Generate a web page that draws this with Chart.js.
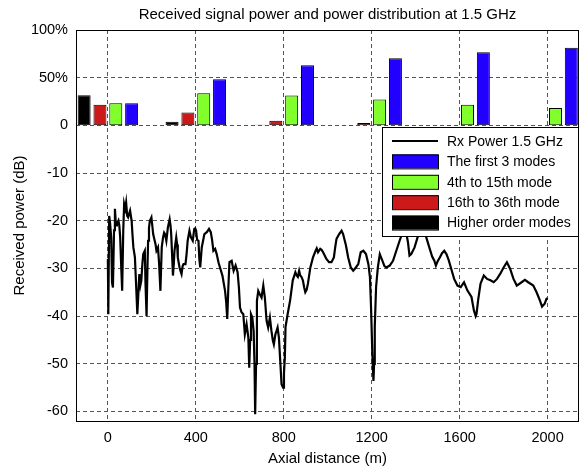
<!DOCTYPE html>
<html>
<head>
<meta charset="utf-8">
<script src="https://cdn.jsdelivr.net/npm/chart.js@4"></script>
<style>
  body { margin: 0; background: #fff; }
</style>
</head>
<body>
<canvas id="power-chart" width="585" height="470"></canvas>
<script>
// axial distance (m) and received power (dB)
let distance = [0, 2, 6, 10, 15, 19, 23, 28, 32, 37, 41, 48, 52, 56, 61, 65, 70, 74, 79, 83, 88, 92, 97, 101, 108, 112, 116, 123, 128, 134, 139, 143, 148, 152, 157, 161, 168, 171, 176, 180, 183, 187, 191, 198, 202, 206, 213, 217, 221, 228, 233, 239, 245, 251, 256, 260, 266, 273, 281, 285, 288, 292, 296, 300, 303, 311, 315, 318, 326, 330, 335, 340, 344, 353, 358, 363, 371, 378, 386, 393, 397, 401, 406, 412, 416, 420, 427, 439, 450, 460, 468, 474, 480, 488, 495, 503, 510, 521, 533, 538, 543, 548, 553, 563, 572, 581, 590, 596, 601, 608, 616, 623, 631, 639, 643, 647, 651, 657, 663, 667, 670, 674, 678, 684, 691, 699, 707, 714, 722, 729, 737, 744, 750, 755, 762, 768, 772, 778, 784, 790, 797, 801, 805, 808, 818, 829, 841, 853, 859, 864, 870, 875, 881, 887, 893, 898, 904, 910, 921, 933, 945, 950, 956, 966, 972, 979, 994, 1006, 1017, 1028, 1034, 1040, 1052, 1063, 1070, 1083, 1093, 1105, 1116, 1128, 1139, 1150, 1162, 1174, 1185, 1192, 1197, 1203, 1208, 1211, 1214, 1220, 1228, 1237, 1249, 1258, 1267, 1282, 1297, 1312, 1327, 1340, 1352, 1365, 1372, 1380, 1395, 1410, 1425, 1437, 1447, 1462, 1475, 1485, 1492, 1500, 1510, 1520, 1530, 1540, 1550, 1560, 1575, 1590, 1605, 1620, 1635, 1654, 1665, 1673, 1677, 1684, 1695, 1710, 1725, 1740, 1755, 1770, 1785, 1800, 1815, 1830, 1845, 1860, 1882, 1897, 1912, 1935, 1950, 1965, 1975, 1987, 1995, 2000];
let rxPower = [-28, -39.6, -19, -20.5, -23.5, -33, -34, -22, -17.5, -21, -20.7, -20, -21, -23.5, -30, -34.7, -22, -16.5, -17.5, -16.2, -19, -19.3, -18.5, -17.9, -20, -23, -25.6, -27.7, -33, -39.6, -35, -31.2, -33.5, -32.6, -29, -27, -26.3, -33, -40, -30, -24.2, -21.5, -20, -19.3, -21, -22.8, -24.2, -25, -26.3, -25.6, -29, -34.7, -25.6, -23.5, -22.5, -22.8, -24.2, -21.4, -19.7, -21, -22.8, -27, -31.5, -29, -26.3, -23.5, -25, -27.7, -29.8, -30.5, -31.2, -29.5, -29.1, -29.1, -27, -24.2, -22.1, -23.5, -24.2, -21.7, -21.6, -22, -24, -24.2, -28, -29.8, -25.6, -22.8, -22.4, -21.7, -22.4, -24, -26.3, -25.9, -27, -28.7, -29.8, -31.5, -34.7, -37, -40.6, -34, -28.7, -28.4, -30.5, -29.4, -30.8, -34, -38.2, -39.2, -39.6, -43.8, -41.7, -44.5, -50.8, -45, -39.6, -40.3, -43.1, -50, -60.6, -50, -36.8, -34.7, -35.4, -36.1, -33.6, -36.1, -41, -42.4, -40.3, -43.1, -45, -45.9, -43.8, -43, -42.4, -44.5, -49.4, -54.3, -55, -52, -48.7, -42.3, -39.5, -36.7, -32.5, -30.8, -31.5, -31.8, -30.5, -31.5, -31.8, -32.5, -34, -35, -34.5, -33.2, -29.8, -27.7, -26.3, -25.8, -26.6, -25.9, -26.1, -26.6, -28, -28.7, -28.7, -27.7, -25.6, -23.8, -22.8, -22.1, -22.8, -25.2, -27.7, -29.8, -30.5, -29.8, -29.1, -26.6, -26.3, -27, -29.1, -31.8, -38.1, -47.9, -53.6, -50, -42.3, -33.9, -29.8, -27, -28.4, -29.5, -29.8, -29.4, -28.4, -26.3, -24.2, -22.5, -21.2, -24.5, -27.3, -27, -25.6, -23.3, -21.5, -22, -23.3, -25.6, -27.5, -28.4, -29.4, -28.5, -27.7, -26.8, -26.3, -27, -28.2, -29.8, -32.2, -33.6, -33.9, -32.9, -34.6, -36, -38.8, -40, -39.5, -36.7, -33.2, -31.5, -32.2, -32.5, -32.9, -32.2, -31.1, -29.8, -28.7, -30.1, -32.2, -33.6, -32.9, -32.4, -32.9, -33.6, -35, -36.7, -38, -37.4, -36.4, -36.2];

// power distribution over mode groups (%), one bar group per position
let positions = [0, 400, 800, 1200, 1600, 2000];
let firstModes = [23.1, 48.3, 63.1, 70.5, 76.6, 81.4];
let midModes = [23.1, 33.8, 31.4, 27, 21.7, 18.3];
let highModes = [21.7, 13.4, 4.8, 2.4, 0.5, 0.2];
let higherModes = [31.7, 3.8, 0.7, 0.3, 0.2, 0.1];

let xTicks = [0, 400, 800, 1200, 1600, 2000];
let yTicks = [-60, -50, -40, -30, -20, -10, 0, 10, 20];
let yTickLabels = ['-60', '-50', '-40', '-30', '-20', '-10', '0', '50%', '100%'];

let FONT = "'Liberation Sans', Arial, Helvetica, sans-serif";
Chart.defaults.font.family = FONT;
Chart.defaults.font.size = 14.5;
Chart.defaults.color = '#000';

function points(xs, ys) {
    return xs.map((x, i) => ({x: x, y: ys[i]}));
}

function barSet(label, values, color) {
    return {
        type: 'bar',
        label: label,
        data: points(positions, values),
        backgroundColor: color,
        borderColor: '#000',
        borderWidth: 1,
        borderSkipped: false,
        categoryPercentage: 0.72,
        barPercentage: 0.82,
        yAxisID: 'y2'
    };
}

// frame around the plot + boxed legend drawn on top of the trace
let framePlugin = {
    id: 'frameAndLegend',
    afterDraw(chart) {
        let ctx = chart.ctx;
        let a = chart.chartArea;
        ctx.save();
        ctx.strokeStyle = '#000';
        ctx.lineWidth = 1;
        ctx.strokeRect(Math.round(a.left) + 0.5, Math.round(a.top) + 0.5,
            Math.round(a.right - a.left) - 1, Math.round(a.bottom - a.top));

        let order = [0, 4, 3, 2, 1];
        let boxW = 197, rowH = 20.4;
        let bx = Math.round(a.right) - boxW, by = Math.round(a.top) + 97;
        let bh = 109;
        ctx.fillStyle = '#fff';
        ctx.fillRect(bx, by, boxW, bh);
        ctx.strokeRect(bx + 0.5, by + 0.5, boxW - 1, bh);
        ctx.font = '14px ' + FONT;
        ctx.textBaseline = 'middle';
        order.forEach((di, k) => {
            let ds = chart.data.datasets[di];
            let cy = by + 14 + k * rowH;
            if (ds.type === 'line') {
                ctx.strokeStyle = '#000';
                ctx.lineWidth = 2;
                ctx.beginPath();
                ctx.moveTo(bx + 10, cy);
                ctx.lineTo(bx + 56, cy);
                ctx.stroke();
            } else {
                ctx.fillStyle = ds.backgroundColor;
                ctx.fillRect(bx + 10, cy - 7, 46, 14);
                ctx.strokeStyle = '#000';
                ctx.lineWidth = 1;
                ctx.strokeRect(bx + 10.5, cy - 6.5, 46, 14);
            }
            ctx.fillStyle = '#000';
            ctx.fillText(ds.label, bx + 65, cy + 1);
        });
        ctx.restore();
    }
};

new Chart('power-chart', {
    data: {
        datasets: [
            {
                type: 'line',
                label: 'Rx Power 1.5 GHz',
                data: points(distance, rxPower),
                borderColor: '#000',
                borderWidth: 2.2,
                pointRadius: 0,
                tension: 0,
                yAxisID: 'y'
            },
            barSet('Higher order modes', higherModes, '#000000'),
            barSet('16th to 36th mode', highModes, '#cc1a1a'),
            barSet('4th to 15th mode', midModes, '#80ff2a'),
            barSet('The first 3 modes', firstModes, '#2200ff')
        ]
    },
    options: {
        responsive: false,
        animation: false,
        layout: { padding: { left: 0, right: 6, top: 0, bottom: 0 } },
        plugins: {
            legend: { display: false },
            tooltip: { enabled: false },
            title: {
                display: true,
                fullSize: false,
                text: 'Received signal power and power distribution at 1.5 GHz',
                font: { size: 15, weight: 'normal' },
                padding: { top: 6, bottom: 6 }
            }
        },
        scales: {
            x: {
                type: 'linear',
                min: -145,
                max: 2143,
                offset: false,
                afterBuildTicks: s => { s.ticks = xTicks.map(v => ({value: v})); },
                afterFit: s => { s.height = 49; },
                ticks: { padding: 8, maxRotation: 0, callback: v => String(v) },
                grid: { color: '#555', drawTicks: false, offset: false },
                border: { display: false, dash: [4, 3] },
                title: { display: true, text: 'Axial distance (m)', font: { size: 15 }, padding: { top: 0, bottom: 2.5 } }
            },
            y: {
                type: 'linear',
                min: -62,
                max: 20,
                afterBuildTicks: s => { s.ticks = yTicks.map(v => ({value: v})); },
                afterFit: s => { s.width = 76; },
                ticks: {
                    padding: 8,
                    callback: (v) => yTickLabels[yTicks.indexOf(v)]
                },
                grid: { color: '#555', drawTicks: false },
                border: { display: false, dash: [4, 3] },
                title: { display: true, text: 'Received power (dB)', font: { size: 15 }, padding: { top: 11, bottom: 0 } }
            },
            y2: {
                type: 'linear',
                display: false,
                min: -310,
                max: 100
            }
        }
    },
    plugins: [framePlugin]
});
</script>
</body>
</html>
